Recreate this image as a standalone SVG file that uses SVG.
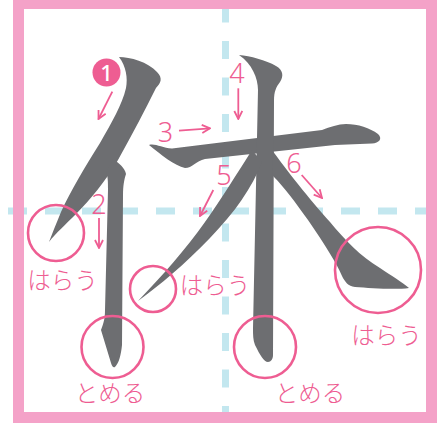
<svg xmlns="http://www.w3.org/2000/svg" width="438" height="423" viewBox="0 0 438 423">
  <defs>
    <style>
      .guide { stroke: #c3e7ef; stroke-width: 7; fill: none; }
      .stk { fill: #6d6e71; }
      .ring { fill: none; stroke: #ee5d92; stroke-width: 2.6; }
      .arr { fill: none; stroke: #ee5d92; stroke-width: 1.8; marker-end: url(#head); }
      .num { font-family: "Noto Sans", "Liberation Sans", sans-serif; font-weight: 300; font-size: 27px; fill: #ee5d92; text-anchor: middle; }
      .lbl { font-family: "Noto Sans CJK JP", "Noto Sans", sans-serif; font-weight: 300; font-size: 23.5px; fill: #ee5d92; text-anchor: middle; }
    </style>
    <marker id="head" viewBox="0 0 10 10" refX="9" refY="5" markerWidth="10" markerHeight="10" markerUnits="userSpaceOnUse" orient="auto">
      <path d="M1,1 L9,5 L1,9" fill="none" stroke="#ee5d92" stroke-width="1.8"/>
    </marker>
  </defs>

  <rect x="0" y="0" width="438" height="423" fill="#ffffff"/>

  <g id="guides">
    <line class="guide" x1="225.5" y1="4.5" x2="225.5" y2="412" stroke-dasharray="18 18.5"/>
    <line class="guide" x1="8" y1="211" x2="426" y2="211" stroke-dasharray="19 18"/>
  </g>

  <g id="frame">
    <rect x="18.5" y="3.5" width="413" height="414" fill="none" stroke="#f4a2c8" stroke-width="11"/>
  </g>

  <g id="stroke1">
    <path class="stk" d="M119,57 C130,57 148,62 157,72 C163,78 161,83 156,88 C146,108 132,135 118,160 C105,182 90,200 76,214 C66,224 56,233 49,242 C52,234 56,224 61,212 C70,192 85,167 100,143 C112,122 122,105 126,88 C128,78 126,66 119,57 Z"/>
  </g>
  <g id="stroke2">
    <path class="stk" d="M113,159 C119,163 125,168 126,174 C124,180 123,186 123,195 L122,345 C121,355 119,363 115,367 C113,368 112,366 111,363 L101,330 C104,322 105,318 105,310 L108,190 C108,182 108,176 106,172 Z"/>
  </g>
  <g id="stroke3">
    <path class="stk" d="M149,145 C155,143 162,148 172,148.5 L322,130 C330,127 338,124 346,124 C358,124 370,128 378,134 C383,139 379,143 372,143.5 L335,145 L205,159 C196,161 192,168 185,168 C175,166 160,154 149,145 Z"/>
  </g>
  <g id="stroke4">
    <path class="stk" d="M239,55 C250,56 266,60 276,66 C283,70 284,76 280,82 C276,87 274,92 274,100 L273,355 C273,359 271,362 268,362 C264,362 260,355 255,345 C253,340 253,335 253,328 L258,90 C258,78 252,64 239,55 Z"/>
  </g>
  <g id="stroke5">
    <path class="stk" d="M252,150 C238,172 222,198 205,222 C185,250 162,276 138,301 C160,285 185,264 210,238 C235,212 252,188 262,162 Z"/>
  </g>
  <g id="stroke6">
    <path class="stk" d="M272,150 C285,168 310,200 330,222 C345,240 360,256 380,268 C392,276 402,282 409,288 C395,290 370,288 355,287 C348,286 345,282 342,276 C336,262 325,245 308,220 C295,202 285,188 273,176 Z"/>
  </g>

  <g id="connectors">
    <line class="arr" x1="112.3" y1="91.7" x2="98.5" y2="119"/>
    <line class="arr" x1="99" y1="218" x2="99" y2="248"/>
    <line class="arr" x1="179" y1="130.7" x2="210" y2="128.3"/>
    <line class="arr" x1="238.3" y1="88.3" x2="238.3" y2="119"/>
    <line class="arr" x1="213.3" y1="190" x2="200" y2="216"/>
    <line class="arr" x1="301.7" y1="175" x2="322" y2="198"/>
  </g>

  <g id="num1">
    <circle cx="106.5" cy="72.5" r="14" fill="#ee5d92"/>
    <text x="106.5" y="80.5" font-family="Noto Sans, Liberation Sans, sans-serif" font-size="22" font-weight="500" fill="#ffffff" text-anchor="middle">1</text>
  </g>
  <g id="num2"><text class="num" x="99" y="214">2</text></g>
  <g id="num3"><text class="num" x="165.5" y="141.7">3</text></g>
  <g id="num4"><text class="num" x="237" y="82.7">4</text></g>
  <g id="num5"><text class="num" x="224" y="185">5</text></g>
  <g id="num6"><text class="num" x="294" y="172.7">6</text></g>

  <g id="mark1">
    <circle class="ring" cx="56" cy="233" r="28"/>
    <text class="lbl" x="62.5" y="289">はらう</text>
  </g>
  <g id="mark2">
    <circle class="ring" cx="112.5" cy="347" r="31"/>
    <text class="lbl" x="110" y="402">とめる</text>
  </g>
  <g id="mark3">
    <circle class="ring" cx="153" cy="289" r="23"/>
    <text class="lbl" x="215" y="294">はらう</text>
  </g>
  <g id="mark4">
    <circle class="ring" cx="265" cy="347" r="31"/>
    <text class="lbl" x="310" y="402">とめる</text>
  </g>
  <g id="mark5">
    <circle class="ring" cx="378" cy="270" r="43"/>
    <text class="lbl" x="386.5" y="344">はらう</text>
  </g>
</svg>
